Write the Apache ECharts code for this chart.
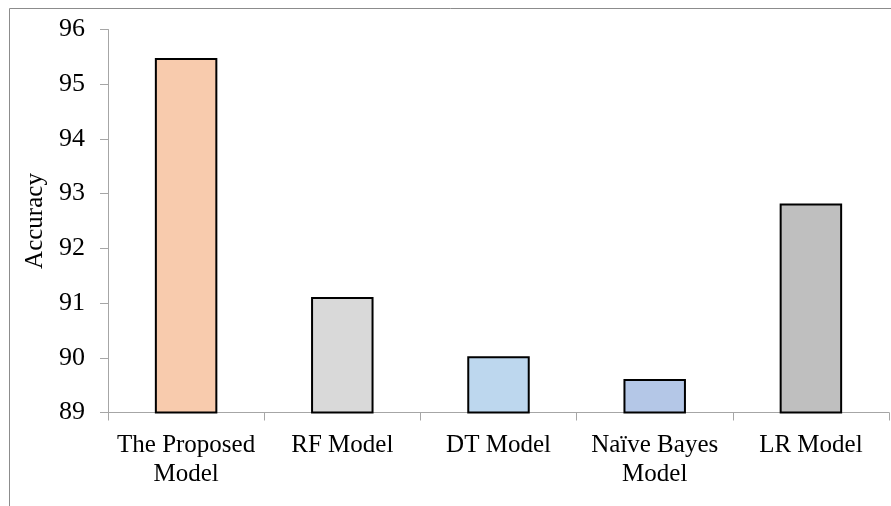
<!DOCTYPE html>
<html>
<head>
<meta charset="utf-8">
<script src="https://cdn.jsdelivr.net/npm/echarts@6/dist/echarts.min.js"></script>
<style>
  html, body { margin: 0; padding: 0; background: #fff; }
  #main { width: 891px; height: 506px; }
</style>
</head>
<body>
<div id="main"></div>
<script>
// categories and values
var models = ['The Proposed\nModel', 'RF Model', 'DT Model', 'Naïve Bayes\nModel', 'LR Model'];
var accuracy = [95.48, 91.11, 90.03, 89.61, 92.82];
var barColors = ['#f8cbad', '#d9d9d9', '#bdd7ee', '#b4c7e7', '#bfbfbf'];

var chart = echarts.init(document.getElementById('main'));

var font = 'Liberation Serif, Times New Roman, serif';

var option = {
  animation: false,
  graphic: [{
    type: 'rect',
    shape: { x: 9.5, y: 8.5, width: 900, height: 520 },
    style: { fill: 'none', stroke: '#8c8c8c', lineWidth: 1 },
    silent: true
  }],
  grid: {
    left: 108,
    right: 2,
    top: 29.5,
    bottom: 93.5
  },
  xAxis: {
    type: 'category',
    data: models,
    axisLine: { lineStyle: { color: '#a6a6a6', width: 1 } },
    axisTick: { show: true, length: 8, lineStyle: { color: '#a6a6a6' } },
    axisLabel: {
      color: '#000',
      fontFamily: font,
      fontSize: 25,
      lineHeight: 29,
      margin: 18,
      interval: 0
    }
  },
  yAxis: {
    type: 'value',
    min: 89,
    max: 96,
    interval: 1,
    name: 'Accuracy',
    nameLocation: 'middle',
    nameGap: 58,
    nameRotate: 90,
    nameTextStyle: { color: '#000', fontFamily: font, fontSize: 25 },
    splitLine: { show: false },
    axisLine: { show: true, lineStyle: { color: '#a6a6a6', width: 1 } },
    axisTick: { show: true, length: 8, lineStyle: { color: '#a6a6a6' } },
    axisLabel: {
      color: '#000',
      fontFamily: font,
      fontSize: 26,
      margin: 23
    }
  },
  series: [{
    type: 'bar',
    barWidth: '40%',
    data: accuracy.map(function (v, i) {
      return {
        value: v,
        itemStyle: { color: barColors[i], borderColor: '#000', borderWidth: 2 }
      };
    })
  }]
};

chart.setOption(option);
</script>
</body>
</html>
